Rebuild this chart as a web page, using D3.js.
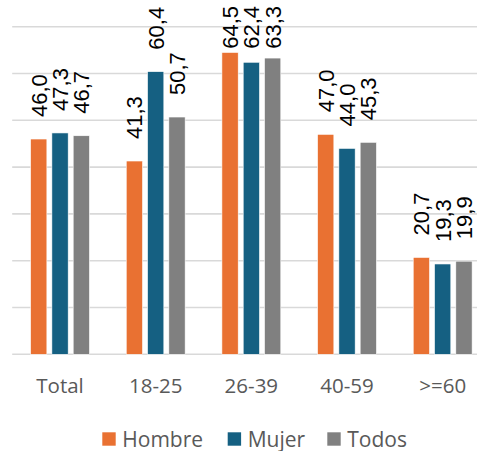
<!DOCTYPE html>
<html>
<head>
<meta charset="utf-8">
<script src="https://cdn.jsdelivr.net/npm/d3@7"></script>
<style>
  html, body { margin: 0; padding: 0; background: #fff; }
  svg { display: block; }
</style>
</head>
<body>
<div id="chart"></div>
<script>
// Age groups and the three series (percentages)
const categories = ["Total", "18-25", "26-39", "40-59", ">=60"];
const seriesNames = ["Hombre", "Mujer", "Todos"];
const hombre = [46.0, 41.3, 64.5, 47.0, 20.7];
const mujer  = [47.3, 60.4, 62.4, 44.0, 19.3];
const todos  = [46.7, 50.7, 63.3, 45.3, 19.9];
const yTicks = [0, 10, 20, 30, 40, 50, 60, 70];

const colors = ["#E97132", "#156082", "#808080"];
const seriesValues = [hombre, mujer, todos];

const W = 477, H = 451;
const svg = d3.select("#chart").append("svg")
  .attr("width", W).attr("height", H);

const x0 = d3.scaleBand().domain(categories).range([12.2, 490.5]).padding(0);
const x1 = d3.scaleBand().domain(seriesNames).range([-29.45, 29.45]).paddingInner(0.235).paddingOuter(0);
const y = d3.scaleLinear().domain([0, 70]).range([354.3, 26.7]);

// horizontal gridlines
svg.append("g").selectAll("line").data(yTicks).join("line")
  .attr("x1", 12.2).attr("x2", 490.5)
  .attr("y1", d => y(d)).attr("y2", d => y(d))
  .attr("stroke", "#d9d9d9").attr("stroke-width", 1.6);

const rows = categories.map((c, i) => ({
  cat: c,
  vals: seriesNames.map((s, j) => ({ s, j, v: seriesValues[j][i] }))
}));

const groups = svg.append("g").selectAll("g").data(rows).join("g")
  .attr("transform", d => `translate(${x0(d.cat) + x0.bandwidth() / 2},0)`);

groups.selectAll("rect").data(d => d.vals).join("rect")
  .attr("x", d => x1(d.s))
  .attr("width", x1.bandwidth())
  .attr("y", d => y(d.v))
  .attr("height", d => y(0) - y(d.v))
  .attr("fill", d => colors[d.j])
  .attr("stroke", "#fff").attr("stroke-width", 0.6);

// value labels, rotated, above each bar; kept inside the top edge
const labels = groups.selectAll("text.val").data(d => d.vals).join("text")
  .attr("class", "val")
  .attr("dy", "0.36em")
  .attr("text-anchor", "start")
  .attr("font-family", "'Liberation Sans', Arial, sans-serif")
  .attr("font-size", 22)
  .attr("fill", "#000")
  .text(d => d3.format(".1f")(d.v).replace(".", ","));

labels.each(function (d) {
  const len = this.getComputedTextLength();
  const base = Math.max(y(d.v) - 22, 6 + len);
  d3.select(this).attr("transform",
    `translate(${x1(d.s) + x1.bandwidth() / 2},${base}) rotate(-90)`);
});

// category axis labels
svg.append("g").selectAll("text").data(categories).join("text")
  .attr("x", d => x0(d) + x0.bandwidth() / 2)
  .attr("y", 393)
  .attr("text-anchor", "middle")
  .attr("font-family", "'Open Sans', sans-serif")
  .attr("font-size", 20.5)
  .attr("fill", "#595959")
  .text(d => d);

// legend
const legendX = [102.3, 227.7, 327.3];
const legend = svg.append("g").selectAll("g").data(seriesNames).join("g")
  .attr("transform", (d, i) => `translate(${legendX[i]},0)`);
legend.append("rect")
  .attr("x", 0).attr("y", 432.3).attr("width", 13.4).attr("height", 13.4)
  .attr("fill", (d, i) => colors[i]);
legend.append("text")
  .attr("x", 20).attr("y", 446.5)
  .attr("font-family", "'Open Sans', sans-serif")
  .attr("font-size", 21)
  .attr("fill", "#595959")
  .text(d => d);
</script>
</body>
</html>
